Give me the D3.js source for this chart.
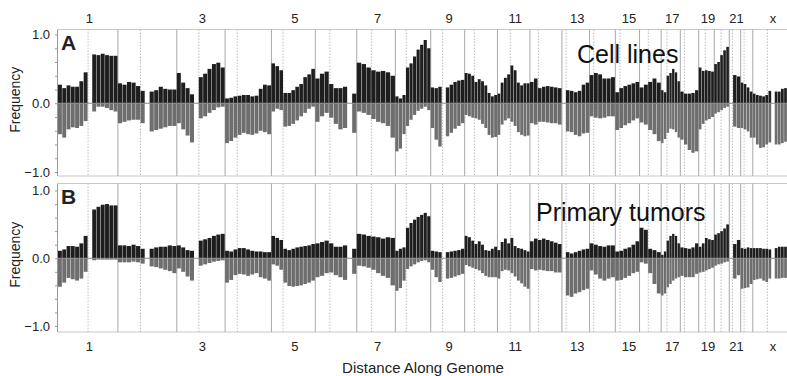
<!DOCTYPE html>
<html>
<head>
<meta charset="utf-8">
<script src="https://cdn.jsdelivr.net/npm/d3@7"></script>
<style>
  body { margin: 0; background: #fff; }
  svg { font-family: "Liberation Sans", Arial, sans-serif; }
</style>
</head>
<body>
<svg id="chart" width="787" height="376"></svg>
<script>
// chromosome sizes / centromere positions (Mb)
const chromNames = ['1','2','3','4','5','6','7','8','9','10','11','12','13','14','15','16','17','18','19','20','21','22','x'];
const chromLengths = [247,243,199,191,181,171,159,146,140,135,134,132,114,106,100,89,79,76,64,62,47,50,155];
const centromeres = [124,93,91,50,48,60,60,45,49,40,53,35,17,17,19,36,24,17,27,28,13,14,60];
const yMajorTicks = [-1, 0, 1];

// frequencies per chromosome, evenly binned along each chromosome (null = no probes)
const gainA = [
  [0.27,0.22,0.26,0.24,0.24,0.32,0.45,null,0.71,0.70,0.72,0.70,0.69,0.69],
  [0.29,0.27,0.31,0.30,0.25,0.18,null,0.17,0.19,0.24,0.21,0.20,0.20],
  [0.44,0.30,0.22,0.13,null,0.38,0.43,0.50,0.57,0.59,0.52],
  [0.07,0.08,0.10,0.11,0.12,0.12,0.10,0.11,0.21,0.27,0.26],
  [0.58,0.54,0.48,0.15,0.15,0.19,0.24,0.28,0.38,0.42,0.50],
  [0.36,0.43,0.46,0.28,0.22,0.22,0.24,null,0.14],
  [0.59,0.57,0.52,0.48,0.46,0.47,0.45,0.40],
  [0.10,0.07,0.12,0.52,0.58,0.68,0.78,0.85,0.92,0.80],
  [0.23,0.22,0.24,null,0.23,0.27,0.31,0.33,0.34],
  [0.44,0.43,0.40,0.31,0.35,0.32,0.26,0.15,0.10,0.12],
  [0.14,0.30,0.37,0.42,0.55,0.48,0.30,0.26,0.29,0.29],
  [0.31,0.36,0.22,0.24,0.25,0.24,0.23,0.22],
  [null,0.19,0.18,0.16,0.18,0.27,0.30],
  [0.41,0.44,0.42,0.36,0.36,0.38],
  [0.16,0.22,0.25,0.27,0.29,0.31],
  [0.23,0.27,0.31,0.36,0.30],
  [0.19,0.16,0.40,0.44,0.50,0.45,0.32],
  [0.17,0.14,0.14,0.15,0.19],
  [0.52,0.47,0.48,0.47,0.46],
  [0.57,0.60,0.70,0.77,0.82],
  [null,0.41,0.39],
  [0.30,0.28,0.23,0.17],
  [0.14,0.12,0.11,0.10,0.12,0.18,null,0.17,0.17,0.21,0.22,0.22]
];
const lossA = [
  [-0.45,-0.50,-0.38,-0.35,-0.36,-0.33,-0.26,null,-0.12,-0.05,-0.05,-0.07,-0.10,-0.12],
  [-0.29,-0.27,-0.25,-0.24,-0.24,-0.29,null,-0.41,-0.39,-0.37,-0.35,-0.33,-0.33],
  [-0.29,-0.38,-0.47,-0.57,null,-0.22,-0.19,-0.14,-0.10,-0.06,-0.05],
  [-0.58,-0.55,-0.50,-0.46,-0.43,-0.45,-0.46,-0.44,-0.40,-0.42,-0.45],
  [-0.12,-0.08,-0.10,-0.34,-0.33,-0.30,-0.25,-0.19,-0.14,-0.08,-0.05],
  [-0.27,-0.19,-0.14,-0.21,-0.30,-0.38,-0.36,null,-0.43],
  [-0.12,-0.14,-0.17,-0.23,-0.27,-0.29,-0.33,-0.50],
  [-0.70,-0.66,-0.45,-0.33,-0.24,-0.17,-0.11,-0.08,-0.05,-0.10],
  [-0.36,-0.53,-0.63,null,-0.48,-0.43,-0.37,-0.33,-0.29],
  [-0.17,-0.19,-0.21,-0.22,-0.24,-0.30,-0.36,-0.46,-0.50,-0.49],
  [-0.46,-0.31,-0.25,-0.22,-0.27,-0.33,-0.42,-0.46,-0.48,-0.47],
  [-0.29,-0.31,-0.27,-0.27,-0.28,-0.29,-0.29,-0.31],
  [null,-0.41,-0.42,-0.46,-0.48,-0.44,-0.43],
  [-0.19,-0.21,-0.22,-0.21,-0.19,-0.19],
  [-0.39,-0.36,-0.32,-0.29,-0.25,-0.22],
  [-0.28,-0.31,-0.39,-0.45,-0.55],
  [-0.58,-0.52,-0.43,-0.37,-0.38,-0.42,-0.50],
  [-0.53,-0.60,-0.68,-0.72,-0.70],
  [-0.38,-0.30,-0.25,-0.23,-0.20],
  [-0.15,-0.13,-0.10,-0.07,-0.05],
  [null,-0.34,-0.36],
  [-0.36,-0.38,-0.41,-0.50],
  [-0.50,-0.60,-0.65,-0.64,-0.60,-0.57,null,-0.60,-0.60,-0.58,-0.56,-0.56]
];
const gainB = [
  [0.11,0.13,0.18,0.18,0.17,0.22,0.33,null,0.72,0.76,0.79,0.80,0.78,0.78],
  [0.19,0.19,0.18,0.20,0.18,0.14,null,0.14,0.16,0.17,0.17,0.19,0.18],
  [0.19,0.16,0.12,0.11,null,0.26,0.28,0.30,0.33,0.35,0.36],
  [0.11,0.10,0.13,0.15,0.15,0.13,0.11,0.10,0.10,0.09,0.09],
  [0.33,0.30,0.27,0.14,0.12,0.14,0.16,0.17,0.18,0.19,0.21],
  [0.22,0.24,0.26,0.22,0.17,0.17,0.19,null,0.14],
  [0.36,0.35,0.33,0.32,0.31,0.29,0.31,0.30],
  [0.11,0.14,0.16,0.45,0.52,0.57,0.61,0.64,0.67,0.62],
  [0.11,0.10,0.09,null,0.09,0.10,0.11,0.12,0.14],
  [0.33,0.31,0.26,0.21,0.25,0.20,0.12,0.11,0.14,0.17],
  [0.12,0.24,0.29,0.22,0.30,0.18,0.15,0.14,0.12,0.10],
  [0.25,0.29,0.27,0.29,0.27,0.25,0.23,0.21],
  [null,0.09,0.07,0.09,0.11,0.13,0.14],
  [0.22,0.20,0.18,0.17,0.19,0.19],
  [0.10,0.11,0.14,0.16,0.20,0.25],
  [0.45,0.42,0.14,0.12,0.09],
  [0.05,0.10,0.26,0.33,0.36,0.33,0.22],
  [0.16,0.15,0.14,0.16,0.22],
  [0.17,0.22,0.30,0.28,0.27],
  [0.35,0.37,0.40,0.44,0.50],
  [null,0.21,0.27],
  [0.15,0.14,0.16,0.15],
  [0.15,0.15,0.15,0.14,0.14,0.13,null,0.15,0.17,0.17,0.17,0.17]
];
const lossB = [
  [-0.42,-0.36,-0.29,-0.31,-0.33,-0.30,-0.20,null,-0.03,-0.02,-0.02,-0.02,-0.02,-0.02],
  [-0.06,-0.06,-0.06,-0.05,-0.06,-0.08,null,-0.12,-0.13,-0.15,-0.17,-0.19,-0.22],
  [-0.15,-0.20,-0.27,-0.33,null,-0.11,-0.09,-0.07,-0.05,-0.04,-0.03],
  [-0.36,-0.32,-0.25,-0.23,-0.24,-0.26,-0.24,-0.22,-0.28,-0.30,-0.33],
  [-0.09,-0.11,-0.17,-0.36,-0.41,-0.42,-0.41,-0.40,-0.38,-0.36,-0.33],
  [-0.28,-0.26,-0.22,-0.21,-0.25,-0.28,-0.32,null,-0.23],
  [-0.11,-0.12,-0.14,-0.17,-0.22,-0.26,-0.29,-0.40],
  [-0.48,-0.44,-0.33,-0.16,-0.12,-0.09,-0.06,-0.04,-0.03,-0.06],
  [-0.17,-0.28,-0.35,null,-0.30,-0.29,-0.27,-0.25,-0.23],
  [-0.10,-0.12,-0.14,-0.16,-0.18,-0.22,-0.26,-0.28,-0.28,-0.28],
  [-0.30,-0.19,-0.17,-0.18,-0.22,-0.27,-0.33,-0.37,-0.42,-0.45],
  [-0.16,-0.18,-0.17,-0.18,-0.19,-0.19,-0.21,-0.21],
  [null,-0.55,-0.57,-0.52,-0.50,-0.47,-0.45],
  [-0.18,-0.24,-0.30,-0.33,-0.30,-0.28],
  [-0.33,-0.32,-0.29,-0.26,-0.22,-0.20],
  [-0.06,-0.08,-0.22,-0.38,-0.52],
  [-0.55,-0.52,-0.43,-0.38,-0.33,-0.30,-0.28],
  [-0.26,-0.28,-0.28,-0.28,-0.23],
  [-0.21,-0.20,-0.18,-0.16,-0.14],
  [-0.11,-0.09,-0.08,-0.06,-0.05],
  [null,-0.30,-0.25],
  [-0.45,-0.44,-0.43,-0.38],
  [-0.32,-0.31,-0.30,-0.33,-0.35,-0.30,null,-0.30,-0.30,-0.29,-0.29,-0.29]
];

const svg = d3.select('#chart');
const W = 787;
const left = 58;

const starts = [0, ...d3.cumsum(chromLengths)];
const total = starts[starts.length - 1];
const x = d3.scaleLinear().domain([0, total]).range([left, 790.4]);

const panels = [
  { letter: 'A', title: 'Cell lines', gain: gainA, loss: lossA, top: 29.5, bottom: 176, yr: [172, 34.5], titleX: 577, titleY: 63, letterY: 50 },
  { letter: 'B', title: 'Primary tumors', gain: gainB, loss: lossB, top: 183.5, bottom: 332, yr: [326, 190.5], titleX: 536, titleY: 221, letterY: 204 }
];

function bins(values) {
  const out = [];
  values.forEach((arr, ci) => {
    const n = arr.length, L = chromLengths[ci];
    arr.forEach((v, j) => {
      if (v === null) return;
      out.push({ x0: starts[ci] + L * j / n, x1: starts[ci] + L * (j + 1) / n, v: v });
    });
  });
  return out;
}

panels.forEach(p => {
  const y = d3.scaleLinear().domain([-1, 1]).range(p.yr);
  const g = svg.append('g');

  // frame lines
  g.append('line').attr('x1', left).attr('x2', W).attr('y1', p.top).attr('y2', p.top)
    .attr('stroke', '#c8c8c8');
  g.append('line').attr('x1', left).attr('x2', W).attr('y1', p.bottom).attr('y2', p.bottom)
    .attr('stroke', '#c8c8c8');

  // chromosome boundaries and centromeres
  g.selectAll('.bnd').data(starts.slice(1, -1)).enter().append('line')
    .attr('x1', d => x(d)).attr('x2', d => x(d))
    .attr('y1', p.top).attr('y2', p.bottom)
    .attr('stroke', '#a8a8a8').attr('stroke-width', 1);
  g.selectAll('.cen').data(centromeres.map((c, i) => starts[i] + c)).enter().append('line')
    .attr('x1', d => x(d)).attr('x2', d => x(d))
    .attr('y1', p.top).attr('y2', p.bottom)
    .attr('stroke', '#bdbdbd').attr('stroke-width', 1).attr('stroke-dasharray', '1.5,1.5');

  // gains and losses
  g.selectAll('.gain').data(bins(p.gain)).enter().append('rect')
    .attr('x', d => x(d.x0)).attr('width', d => Math.max(0.5, x(d.x1) - x(d.x0) - 0.4))
    .attr('y', d => y(d.v)).attr('height', d => y(0) - y(d.v))
    .attr('fill', '#1e1e1e');
  g.selectAll('.loss').data(bins(p.loss)).enter().append('rect')
    .attr('x', d => x(d.x0)).attr('width', d => Math.max(0.5, x(d.x1) - x(d.x0) - 0.4))
    .attr('y', y(0)).attr('height', d => y(d.v) - y(0))
    .attr('fill', '#6e6e6e');

  // zero line
  g.append('line').attr('x1', left).attr('x2', W).attr('y1', y(0)).attr('y2', y(0))
    .attr('stroke', '#8a8a8a');

  // y axis
  const ax = g.append('g').attr('transform', `translate(${left},0)`)
    .call(d3.axisLeft(y).tickValues(d3.range(-1, 1.001, 0.2)).tickSize(3).tickPadding(5)
      .tickFormat(d => yMajorTicks.some(t => Math.abs(t - d) < 1e-6) ? d3.format('.1f')(d) : ''));
  ax.select('.domain').attr('stroke', '#999').attr('d', `M-0.5,${p.top}V${p.bottom}`);
  ax.selectAll('.tick line').attr('stroke', '#999');
  ax.selectAll('.tick text').attr('font-size', 13).attr('fill', '#222')
    .attr('font-family', '"Liberation Sans", Arial, sans-serif');

  g.append('text').attr('transform', `translate(20,${(p.top + p.bottom) / 2 - 3}) rotate(-90)`)
    .attr('text-anchor', 'middle').attr('font-size', 14).attr('fill', '#222').text('Frequency');

  g.append('text').attr('x', 61).attr('y', p.letterY).attr('font-size', 21).attr('font-weight', 'bold')
    .attr('fill', '#222').text(p.letter);
  g.append('text').attr('x', p.titleX).attr('y', p.titleY).attr('font-size', 25)
    .attr('fill', '#111').text(p.title);
});

// chromosome labels (odd ones and x), top and bottom
const labelIdx = chromNames.map((c, i) => i).filter(i => i % 2 === 0);
[22.5, 350.5].forEach(ly => {
  svg.selectAll(null).data(labelIdx).enter().append('text')
    .attr('x', i => x(starts[i] + chromLengths[i] / 2) + 1.5)
    .attr('y', ly).attr('text-anchor', 'middle').attr('font-size', 13).attr('fill', '#222')
    .text(i => chromNames[i]);
});

svg.append('text').attr('x', 423).attr('y', 372.5).attr('text-anchor', 'middle')
  .attr('font-size', 15).attr('fill', '#222').text('Distance Along Genome');
</script>
</body>
</html>
